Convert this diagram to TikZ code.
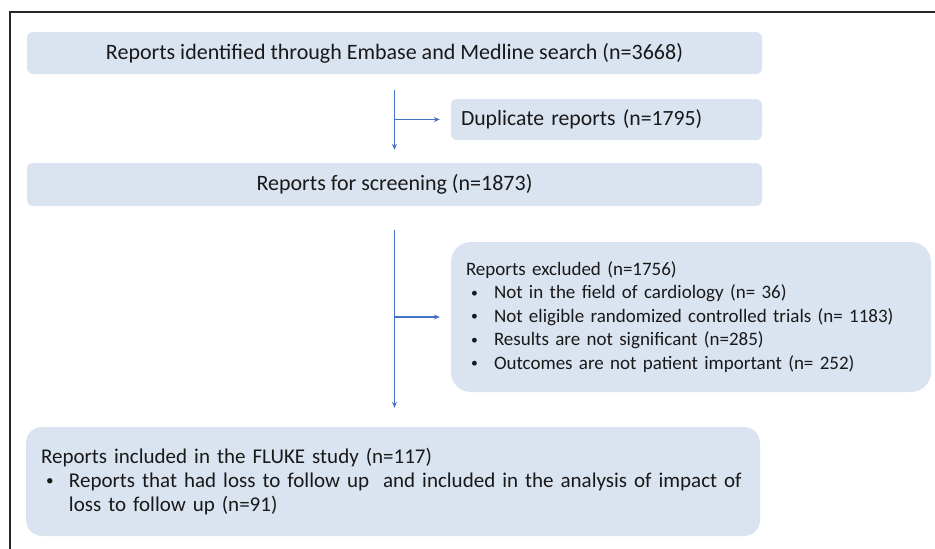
\documentclass[tikz,border=0pt]{standalone}
\usepackage{fontspec}
\setmainfont{Carlito}
\usetikzlibrary{arrows.meta}
\definecolor{boxfill}{RGB}{218,227,240}
\definecolor{arrowblue}{RGB}{68,114,196}
\newcommand{\bitem}{\hspace*{5pt}\makebox[23pt][l]{\raisebox{0.1em}{\scalebox{0.72}{\textbullet}}}}
\begin{document}
\begin{tikzpicture}[x=1pt,y=-1pt,
  box/.style={fill=boxfill, draw=none, inner sep=0pt, text=black!90},
  bigtext/.style={font=\fontsize{22}{26}\selectfont},
  flow/.style={draw=arrowblue, line width=1.1pt, -{Stealth[length=6pt,width=5pt]}}]
\useasboundingbox (0,0) rectangle (935,549);
\draw[line width=1.5pt, black!85] (10,549) -- (10,12) -- (935,12);

\node[box, bigtext, rounded corners=6pt, minimum width=735pt, minimum height=42pt] (ident) at (394.5,53)
  {Reports identified through Embase and Medline search (n=3668)};
\node[box, font=\fontsize{21.7}{26}\selectfont, rounded corners=6pt, minimum width=311pt, minimum height=41pt, text width=291pt, align=left] (dup) at (606.5,119.5)
  {Duplicate reports (n=1795)};
\node[box, bigtext, rounded corners=6pt, minimum width=735pt, minimum height=43pt] (screen) at (394.5,184.5)
  {Reports for screening (n=1873)};
\node[box, font=\fontsize{19}{23.5}\selectfont, rounded corners=20pt, minimum width=480pt, minimum height=150pt, text width=450pt, align=left] (excl) at (691,317)
  {Reports excluded (n=1756)\\
   \bitem Not in the field of cardiology (n= 36)\\
   \bitem Not eligible randomized controlled trials (n= 1183)\\
   \bitem Results are not significant (n=285)\\
   \bitem Outcomes are not patient important (n= 252)};
\node[box, font=\fontsize{21}{24}\selectfont, rounded corners=16pt, minimum width=734pt, minimum height=109pt, text width=704pt, align=left] (incl) at (393,481.5)
  {Reports included in the FLUKE study (n=117)\\
   \bitem Reports that had loss to follow up\ \ and included in the analysis of impact of\\
   \hspace*{28pt}loss to follow up (n=91)};

\draw[flow, shorten <=16pt, shorten >=13pt] (ident.south) -- (screen.north);
\draw[flow, shorten >=11pt] (ident.south |- dup.west) -- (dup.west);
\draw[flow, shorten <=24pt, shorten >=19pt] (screen.south) -- (screen.south |- incl.north);
\draw[flow, shorten >=11pt] (screen.south |- excl.west) -- (excl.west);
\end{tikzpicture}
\end{document}
